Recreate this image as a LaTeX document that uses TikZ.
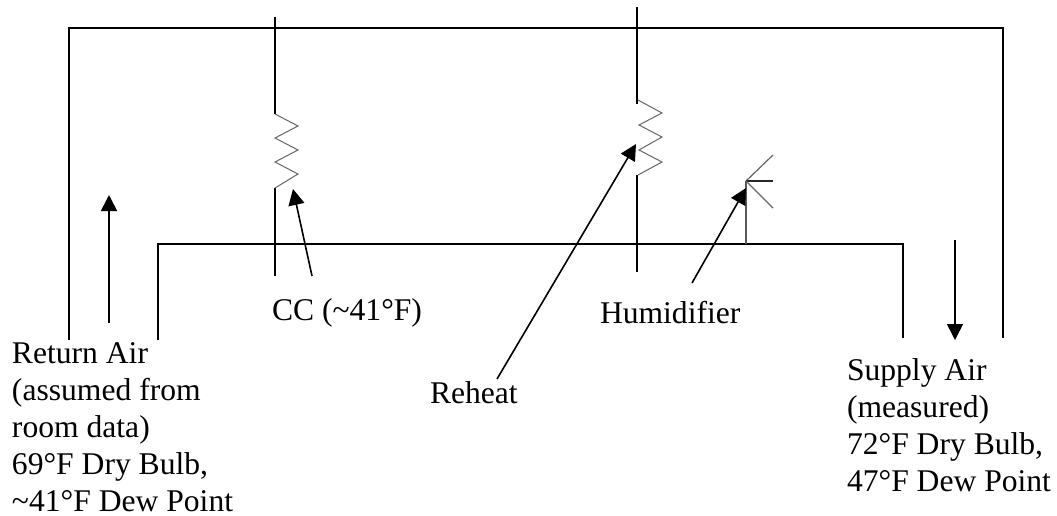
\documentclass[tikz,border=0pt]{standalone}
\usepackage{fontspec}
\setmainfont{Liberation Serif}
\usetikzlibrary{arrows.meta}
\tikzset{
  x=1pt,y=-1pt,
  duct/.style={draw=black,line width=1.6pt},
  coilz/.style={draw=black!60,line width=1pt},
  hum/.style={draw=black!65,line width=1.5pt},
  arr/.style={draw=black,line width=1.6pt,-{Triangle[length=16pt,width=16pt]}},
  lab/.style={inner sep=0pt,outer sep=0pt,font=\fontsize{31.6}{37}\selectfont,align=left,anchor=north west}
}
\begin{document}
\begin{tikzpicture}
\useasboundingbox (0,0) rectangle (1057,515);
\fill[white] (0,0) rectangle (1057,515);
% labels
\node[lab,text depth=0pt] (ret) at (12,342.7) {Return Air\\(assumed from\\room data)\\69°F Dry Bulb,\\\textasciitilde 41°F Dew Point};
\node[lab] (sup) at (847,358.4) {Supply Air\\(measured)\\72°F Dry Bulb,\\47°F Dew Point};
\node[lab] (cc) at (272,298.2) {CC (\textasciitilde 41°F)};
\node[lab] (hl) at (600,301.4) {Humidifier};
\node[lab] (rh) at (430,382) {Reheat};
% duct
\coordinate (o1) at (69,340); \coordinate (o2) at (69,28);
\coordinate (o3) at (1003,28); \coordinate (o4) at (1003,338);
\coordinate (i1) at (158,340); \coordinate (i2) at (158,244);
\coordinate (i3) at (903,244); \coordinate (i4) at (903,338);
\draw[duct] (o1) -- (o2) -- (o3) -- (o4);
\draw[duct] (i1) -- (i2) -- (i3) -- (i4);
% coil 1
\coordinate (a1) at (275,17); \coordinate (a2) at (275,114);
\coordinate (a3) at (275,188); \coordinate (a4) at (275,276);
\draw[duct] (a1) -- (a2);
\draw[duct] (a3) -- (a4);
\draw[coilz] (a2) -- (298,126) -- (275,138) -- (298,150) -- (275,162) -- (298,174) -- (a3);
% coil 2
\coordinate (b1) at (637,7); \coordinate (b2) at (637,104);
\coordinate (b3) at (637,175); \coordinate (b4) at (637,272);
\draw[duct] (b1) -- (b2);
\draw[duct] (b3) -- (b4);
\draw[coilz] (638,100) -- (662,113) -- (639,125) -- (662,137) -- (639,150) -- (662,162) -- (638,175);
% humidifier
\coordinate (h0) at (746,244); \coordinate (h1) at (746,181);
\coordinate (h2) at (773,155); \coordinate (h3) at (773,181); \coordinate (h4) at (773,208);
\draw[hum] (h0) -- (h1);
\draw[coilz,line width=1.2pt] (h1) -- (h2);
\draw[coilz,draw=black!85,line width=1.2pt] (h1) -- (h3);
\draw[coilz,line width=1.2pt] (h1) -- (h4);
% arrows
\coordinate (c1) at (312,276); \coordinate (c2) at (293,189);
\coordinate (r1) at (497,379); \coordinate (r2) at (636,144);
\coordinate (u1) at (692,283); \coordinate (u2) at (746,188);
\coordinate (ra1) at (109,323); \coordinate (ra2) at (109,195);
\coordinate (sa1) at (955,240); \coordinate (sa2) at (955,340);
\draw[arr] (c1) -- (c2);
\draw[arr] (r1) -- (r2);
\draw[arr] (u1) -- (u2);
\draw[arr] (ra1) -- (ra2);
\draw[arr] (sa1) -- (sa2);
\end{tikzpicture}
\end{document}
